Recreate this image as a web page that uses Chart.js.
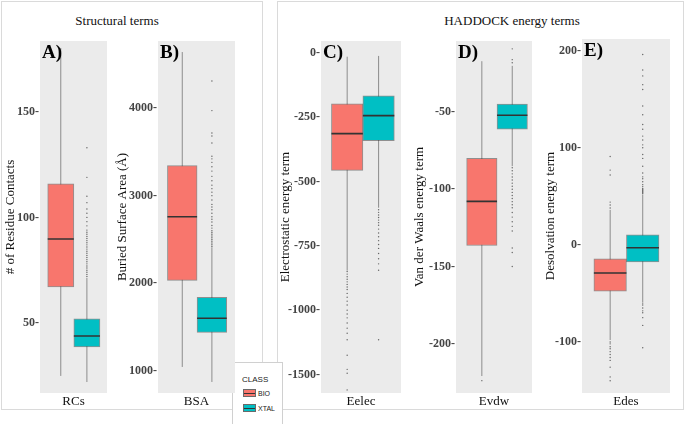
<!DOCTYPE html>
<html lang="en">
<head>
<meta charset="UTF-8">
<title>BIO vs XTAL interfaces</title>
<script src="https://cdn.jsdelivr.net/npm/chart.js"></script>
<style>
  body { margin: 0; width: 685px; height: 424px; background: #fff; position: relative; overflow: hidden; font-family: "Liberation Serif", serif; }
  .frame { position: absolute; top: 1px; height: 409px; border: 1px solid #dadada; box-sizing: border-box; }
  .head { position: absolute; top: 13px; font-size: 13px; line-height: 15px; transform: translateX(-50%); white-space: nowrap; color: #111; }
  canvas { position: absolute; top: 30px; }
  #legend { position: absolute; left: 232px; top: 362px; width: 51px; height: 70px; background: #fff; border: 1px solid #d0d0d0; box-sizing: border-box; font-family: "Liberation Sans", sans-serif; color: #1a1a1a; }
  #legend .ttl { position: absolute; left: 9px; top: 12px; font-size: 8px; line-height: 10px; }
  #legend .lab { position: absolute; left: 25px; font-size: 7px; line-height: 9px; }
  #legend .sw { position: absolute; left: 10px; width: 13px; height: 8px; box-sizing: border-box; border: 1px solid #6a6a6a; }
  #legend .sw::after { content: ""; position: absolute; left: 0; right: 0; top: 2.5px; height: 1px; background: #333; }
</style>
</head>
<body>
  <div class="frame" style="left:1px; width:262px;"></div>
  <div class="frame" style="left:277px; width:407px;"></div>
  <div class="head" style="left:117px;">Structural terms</div>
  <div class="head" style="left:512px;">HADDOCK energy terms</div>
  <div id="legend"><div class="ttl">CLASS</div></div>

<script>
  const categories = ["RCs", "BSA", "Eelec", "Evdw", "Edes"];
  const classes = ["BIO", "XTAL"];
  const panelTags = ["A)", "B)", "C)", "D)", "E)"];
  const yTitles = ["# of Residue Contacts", "Buried Surface Area (Å)", "Electrostatic energy term",
                   "Van der Waals energy term", "Desolvation energy term"];

  // boxplot stats per term: lower whisker, Q1, median, Q3, upper whisker
  const bioLow    = [24.9, 1046, -846, -221, -98];
  const bioQ1     = [67.1, 2034, -457, -136.4, -47.7];
  const bioMedian = [89.8, 2760, -314, -107.8, -29];
  const bioQ3     = [115.9, 3342, -198, -79.9, -14.4];
  const bioHigh   = [180.3, 4638, -15, -17, 36];

  const xtalLow    = [22, 875, -602, -85, -59];
  const xtalQ1     = [38.6, 1441, -341, -61, -17.5];
  const xtalMedian = [43.8, 1601, -244, -52, -3];
  const xtalQ3     = [51.9, 1840, -167, -44.8, 10.3];
  const xtalHigh   = [71.3, 2410, -12, -20, 52];

  const bioOutliers = [
    [],
    [],
    [-850, -860, -870, -880, -890, -900, -910, -920, -935, -950, -965, -980, -1000, -1015, -1030,
     -1050, -1070, -1090, -1115, -1175, -1230, -1245, -1310],
    [-224],
    [38, 41, 44, 72, 77, 91, -100, -102, -105, -107, -110, -113, -116, -119, -126, -136, -140]
  ];
  const xtalOutliers = [
    [72, 73, 74, 75, 76, 77, 78, 79, 80, 81, 82, 83, 84, 85, 86, 87, 88, 89, 90, 91, 92, 93, 94,
     96, 98, 100, 102, 104, 107, 110, 119, 133],
    [2420, 2440, 2460, 2480, 2500, 2520, 2540, 2560, 2580, 2600, 2630, 2660, 2700, 2730, 2760, 2800,
     2840, 2870, 2900, 2950, 3000, 3040, 3080, 3120, 3170, 3220, 3280, 3330, 3380, 3420, 3450,
     3600, 3680, 3715, 3970, 4308],
    [-610, -620, -630, -640, -650, -660, -670, -685, -700, -715, -730, -745, -760, -780, -800, -820,
     -845, -1115],
    [-18, -16, -9, -86, -88, -90, -92, -94, -96, -98, -100, -102, -104, -106, -108, -110, -112, -115,
     -118, -121, -124, -127, -138, -141, -150],
    [53, 54, 55, 56, 57, 58, 60, 62, 65, 68, 70, 74, 81, 89, 93, 100, 103, 108, 112, 119, 124, 134,
     143, 160, 165, 174, 180, 196, -60, -62, -65, -68, -70, -75, -83, -106]
  ];

  const yMin = [16.8, 749, -1322, -232, -152.6];
  const yMax = [183.6, 4764, 46, -3.9, 212];
  const yTicks = [
    [50, 100, 150],
    [1000, 2000, 3000, 4000],
    [0, -250, -500, -750, -1000, -1250],
    [-200, -150, -100, -50],
    [-100, 0, 100, 200]
  ];
  // the Eelec axis in the figure labels its last break "-1500"
  const yTickLabels = [
    ["50", "100", "150"],
    ["1000", "2000", "3000", "4000"],
    ["0", "-250", "-500", "-750", "-1000", "-1500"],
    ["-200", "-150", "-100", "-50"],
    ["-100", "0", "100", "200"]
  ];

  // layout (pixels) and colours
  const panelLeft = [40, 158, 321, 456, 582];
  const panelRight = [111, 239, 405, 536, 674];
  const panelTop = [41, 41, 41, 41, 39];
  const titleX = [11, 123, 286, 420, 551];
  const bioPos = [0.31, 0.315, 0.327, 0.34, 0.32];
  const xtalPos = [0.70, 0.70, 0.72, 0.74, 0.69];
  const colors = ["#F8766D", "#00BFC4"];

  // legend
  const legend = document.getElementById("legend");
  classes.forEach((c, k) => {
    const sw = document.createElement("div");
    sw.className = "sw";
    sw.style.top = (26 + k * 15) + "px";
    sw.style.background = colors[k];
    legend.appendChild(sw);
    const lab = document.createElement("div");
    lab.className = "lab";
    lab.style.top = (26 + k * 15) + "px";
    lab.textContent = c;
    legend.appendChild(lab);
  });

  const panelDeco = {
    id: "panelDeco",
    beforeDraw(chart) {
      const a = chart.chartArea, ctx = chart.ctx;
      ctx.save();
      ctx.fillStyle = "#EBEBEB";
      ctx.fillRect(a.left, a.top, a.right - a.left, a.bottom - a.top);
      ctx.restore();
    },
    afterDatasetsDraw(chart, args, opts) {
      const a = chart.chartArea, ctx = chart.ctx;
      ctx.save();
      ctx.font = "bold 19px 'Liberation Serif'";
      ctx.fillStyle = "#000";
      ctx.textBaseline = "alphabetic";
      ctx.fillText(opts.tag, a.left + 2, a.top + 17);
      ctx.restore();
    }
  };

  const serif = "Liberation Serif";

  categories.forEach((cat, i) => {
    const left = titleX[i] - 9;
    const canvas = document.createElement("canvas");
    canvas.width = panelRight[i] - left;
    canvas.height = 379;
    canvas.style.left = left + "px";
    document.body.appendChild(canvas);

    const xb = bioPos[i], xx = xtalPos[i], h = (xx - xb) / 2;

    const medians = [
      {x: xb - h, y: bioMedian[i]}, {x: xb + h, y: bioMedian[i]}, {x: xb + h, y: null},
      {x: xx - h, y: xtalMedian[i]}, {x: xx + h, y: xtalMedian[i]}
    ];
    const whiskers = [
      {x: xb, y: bioLow[i]}, {x: xb, y: bioHigh[i]}, {x: xb, y: null},
      {x: xx, y: xtalLow[i]}, {x: xx, y: xtalHigh[i]}
    ];
    const outliers = bioOutliers[i].map(v => ({x: xb, y: v}))
      .concat(xtalOutliers[i].map(v => ({x: xx, y: v})));

    new Chart(canvas.getContext("2d"), {
      type: "bar",
      data: {
        datasets: [
          { type: "line", data: medians, borderColor: "#333", borderWidth: 1.6, pointRadius: 0, spanGaps: false, order: 0 },
          {
            type: "bar",
            data: [{x: xb, y: [bioQ1[i], bioQ3[i]]}, {x: xx, y: [xtalQ1[i], xtalQ3[i]]}],
            backgroundColor: colors,
            borderColor: "rgba(51,51,51,0.5)",
            borderWidth: 1,
            borderSkipped: false,
            barPercentage: 1,
            categoryPercentage: 1,
            order: 1
          },
          { type: "line", data: whiskers, borderColor: "#8c8c8c", borderWidth: 1, pointRadius: 0, spanGaps: false, order: 2 },
          { type: "scatter", data: outliers, pointRadius: 0.7, pointBackgroundColor: "#666", pointBorderWidth: 0, order: 3 }
        ]
      },
      options: {
        responsive: false,
        animation: false,
        devicePixelRatio: 1,
        layout: { padding: { top: panelTop[i] - 30, left: 0, right: 0, bottom: 0 } },
        plugins: {
          legend: { display: false },
          tooltip: { enabled: false },
          panelDeco: { tag: panelTags[i] }
        },
        scales: {
          x: {
            type: "linear", min: 0, max: 1, offset: false,
            grid: { display: false }, border: { display: false },
            ticks: { display: false },
            afterBuildTicks: s => { s.ticks = []; },
            afterFit: s => { s.height = 16; },
            title: { display: true, text: cat, color: "#111", padding: 0, font: { family: serif, size: 13 } }
          },
          y: {
            type: "linear", min: yMin[i], max: yMax[i], beginAtZero: false,
            grid: { display: false, drawTicks: false }, border: { display: false },
            afterBuildTicks: s => { s.ticks = yTicks[i].map(v => ({ value: v })); },
            afterFit: s => { s.width = panelLeft[i] - left; },
            ticks: {
              autoSkip: false, padding: 1, color: "#444",
              font: { family: serif, size: 12, weight: "bold" },
              callback: v => yTickLabels[i][yTicks[i].indexOf(v)] + "-"
            },
            title: { display: true, text: yTitles[i], color: "#111", padding: { top: 1, bottom: 0 }, font: { family: serif, size: 13 } }
          }
        }
      },
      plugins: [panelDeco]
    });
  });
</script>
</body>
</html>
